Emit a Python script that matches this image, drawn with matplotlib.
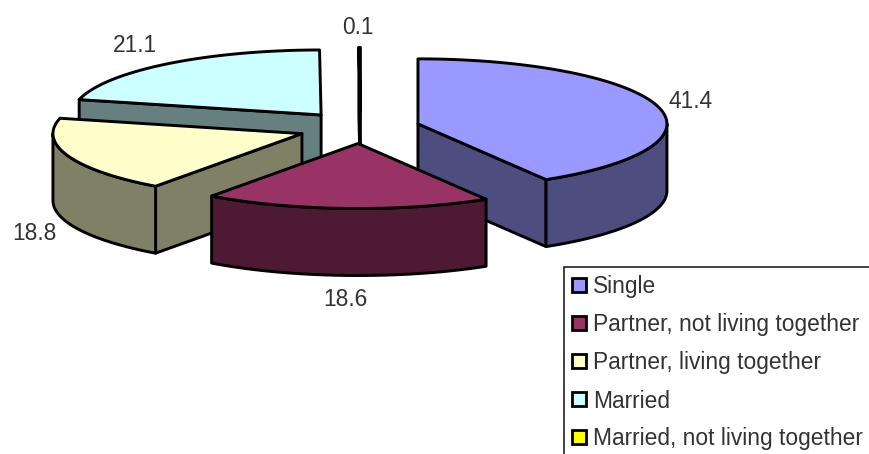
"""Exploded 3D-style pie of relationship status, with a legend box."""
import matplotlib

matplotlib.use("Agg")
import matplotlib.pyplot as plt
import numpy as np
from matplotlib.patches import Polygon, Rectangle

plt.rcParams["font.family"] = ["Liberation Sans", "DejaVu Sans"]

categories = [
    "Single",
    "Partner, not living together",
    "Partner, living together",
    "Married",
    "Married, not living together",
]
values = [41.4, 18.6, 18.8, 21.1, 0.1]
top_colors = ["#9999FF", "#993366", "#FFFFCC", "#CCFFFF", "#FFFF00"]
side_colors = ["#4D4D80", "#4D1933", "#808066", "#668080", "#808000"]
explode = [1.0, 1.0, 1.05, 1.07, 1.0]

# pie geometry in pixels
CX, CY = 360.6, 128.0
RX, RY = 249.0, 65.0
DEPTH = 67.0
EXPLODE_PX = 59.5
LW = 2.1
TEXT = "#333333"

# drawing order, back to front
DRAW_ORDER = [3, 4, 0, 2, 1]
LABEL_POS = [(691, 102), (345, 299), (34, 233), (135, 45), (358, 27)]


def rim(cx, cy, a0, a1, n=120):
    """Points on the ellipse, angles in degrees clockwise from the top."""
    t = np.radians(np.linspace(a0, a1, n))
    return np.column_stack([cx + RX * np.sin(t), cy - RY * np.cos(t)])


def add_poly(ax, pts, color):
    ax.add_patch(Polygon(pts, closed=True, facecolor=color, edgecolor="black",
                         linewidth=LW, joinstyle="round"))


def draw_slice(ax, a0, a1, scale, top, side):
    mid = np.radians((a0 + a1) / 2)
    cx = CX + EXPLODE_PX * scale * np.sin(mid)
    cy = CY - EXPLODE_PX * scale * RY / RX * np.cos(mid)
    apex = np.array([cx, cy])
    drop = np.array([0, DEPTH])

    # cut faces that turn towards the viewer
    for a, visible in ((a0, np.sin(np.radians(a0)) < 0), (a1, np.sin(np.radians(a1)) > 0)):
        if visible:
            p = rim(cx, cy, a, a, 1)[0]
            add_poly(ax, [apex, p, p + drop, apex + drop], side)

    # outer wall, only the front half of the rim shows
    lo, hi = max(a0, 90), min(a1, 270)
    if hi > lo:
        arc = rim(cx, cy, lo, hi)
        add_poly(ax, np.vstack([arc, arc[::-1] + drop]), side)

    add_poly(ax, np.vstack([apex, rim(cx, cy, a0, a1)]), top)


fig = plt.figure(figsize=(8.69, 4.54), dpi=100)
ax = fig.add_axes([0, 0, 1, 1])
ax.set_xlim(0, 869)
ax.set_ylim(454, 0)
ax.axis("off")

edges = np.concatenate([[0], np.cumsum(values)]) * 3.6
for i in DRAW_ORDER:
    draw_slice(ax, edges[i], edges[i + 1], explode[i], top_colors[i], side_colors[i])

for v, (x, y) in zip(values, LABEL_POS):
    ax.text(x, y, f"{v:.1f}", ha="center", va="center", fontsize=16.4, color=TEXT)

# legend box runs off the right and bottom of the figure
ax.add_patch(Rectangle((563.5, 267), 320, 200, facecolor="white", edgecolor="#222222",
                       linewidth=1.2, zorder=5))
for i, name in enumerate(categories):
    y = 285 + 38 * i
    ax.add_patch(Rectangle((572, y - 7), 14, 14, facecolor=top_colors[i], edgecolor="black",
                           linewidth=2.0, zorder=6))
    ax.text(593, y + 2, name, ha="left", va="center", fontsize=16.4, color=TEXT, zorder=6)

fig.savefig("out.png", dpi=100)
